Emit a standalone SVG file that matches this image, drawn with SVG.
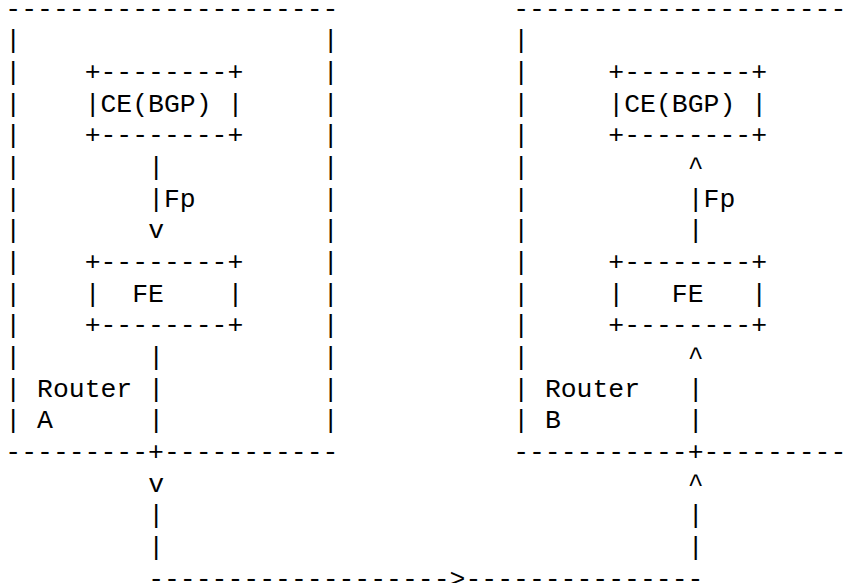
<svg xmlns="http://www.w3.org/2000/svg" width="848" height="583" viewBox="0 0 848 583">
<style>
text{font-family:"Liberation Mono","Courier New",monospace;font-size:26.45px;fill:#000;white-space:pre}
</style>
<rect width="848" height="583" fill="#fff"/>
<g id="router-a">
<text x="5.3" y="16.7">---------------------</text>
<text x="5.3" y="48.37">|</text><text x="322.7" y="48.37">|</text>
<text x="5.3" y="80.04">|</text><text x="322.7" y="80.04">|</text>
<text x="5.3" y="111.71">|</text><text x="322.7" y="111.71">|</text>
<text x="5.3" y="143.38">|</text><text x="322.7" y="143.38">|</text>
<text x="5.3" y="175.05">|</text><text x="322.7" y="175.05">|</text>
<text x="5.3" y="206.72">|</text><text x="322.7" y="206.72">|</text>
<text x="5.3" y="238.39">|</text><text x="322.7" y="238.39">|</text>
<text x="5.3" y="270.06">|</text><text x="322.7" y="270.06">|</text>
<text x="5.3" y="301.73">|</text><text x="322.7" y="301.73">|</text>
<text x="5.3" y="333.4">|</text><text x="322.7" y="333.4">|</text>
<text x="5.3" y="365.07">|</text><text x="322.7" y="365.07">|</text>
<text x="5.3" y="396.74">|</text><text x="37.04" y="396.74">Router</text><text x="322.7" y="396.74">|</text>
<text x="5.3" y="428.41">|</text><text x="37.04" y="428.41">A</text><text x="322.7" y="428.41">|</text>
<text x="5.3" y="460.08">---------+-----------</text>
</g>
<g id="ce-a">
<text x="84.65" y="80.04">+--------+</text>
<text x="84.65" y="111.71">|CE(BGP) |</text>
<text x="84.65" y="143.38">+--------+</text>
</g>
<g id="fe-a">
<text x="84.65" y="270.06">+--------+</text>
<text x="84.65" y="301.73">|  FE    |</text>
<text x="84.65" y="333.4">+--------+</text>
</g>
<g id="router-b">
<text x="513.14" y="16.7">---------------------</text>
<text x="513.14" y="48.37">|</text>
<text x="513.14" y="80.04">|</text>
<text x="513.14" y="111.71">|</text>
<text x="513.14" y="143.38">|</text>
<text x="513.14" y="175.05">|</text>
<text x="513.14" y="206.72">|</text>
<text x="513.14" y="238.39">|</text>
<text x="513.14" y="270.06">|</text>
<text x="513.14" y="301.73">|</text>
<text x="513.14" y="333.4">|</text>
<text x="513.14" y="365.07">|</text>
<text x="513.14" y="396.74">|</text><text x="544.88" y="396.74">Router</text>
<text x="513.14" y="428.41">|</text><text x="544.88" y="428.41">B</text>
<text x="513.14" y="460.08">-----------+---------</text>
</g>
<g id="ce-b">
<text x="608.36" y="80.04">+--------+</text>
<text x="608.36" y="111.71">|CE(BGP) |</text>
<text x="608.36" y="143.38">+--------+</text>
</g>
<g id="fe-b">
<text x="608.36" y="270.06">+--------+</text>
<text x="608.36" y="301.73">|   FE   |</text>
<text x="608.36" y="333.4">+--------+</text>
</g>
<g id="connectors">
<text x="148.13" y="175.05">|</text>
<text x="148.13" y="206.72">|Fp</text>
<text x="148.13" y="238.39">v</text>
<text x="148.13" y="365.07">|</text>
<text x="148.13" y="396.74">|</text>
<text x="148.13" y="428.41">|</text>
<text x="148.13" y="491.75">v</text>
<text x="148.13" y="523.42">|</text>
<text x="148.13" y="555.09">|</text>
<text x="148.13" y="586.76">------------------->---------------</text>
<text x="687.71" y="175.05">^</text>
<text x="687.71" y="206.72">|Fp</text>
<text x="687.71" y="238.39">|</text>
<text x="687.71" y="365.07">^</text>
<text x="687.71" y="396.74">|</text>
<text x="687.71" y="428.41">|</text>
<text x="687.71" y="491.75">^</text>
<text x="687.71" y="523.42">|</text>
<text x="687.71" y="555.09">|</text>
</g>
</svg>
